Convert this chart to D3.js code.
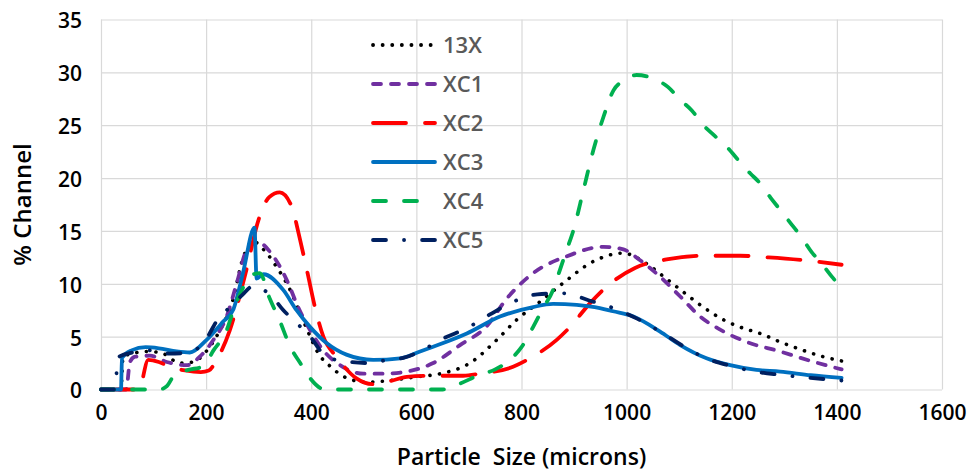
<!DOCTYPE html>
<html>
<head>
<meta charset="utf-8">
<script src="https://cdn.jsdelivr.net/npm/d3@7"></script>
<style>
  body { margin: 0; background: #fff; }
  svg { display: block; font-family: "Open Sans", sans-serif; }
</style>
</head>
<body>
<script>
// series names (legend order)
var seriesNames = ["13X", "XC1", "XC2", "XC3", "XC4", "XC5"];

// particle size (microns) and % channel
var size13X = [0, 38, 42, 60, 90, 118, 150, 175, 200, 225, 250, 270, 290, 310, 334, 360, 379, 398, 413, 436, 467, 505, 540, 600, 651, 702, 753, 791, 835, 880, 936, 993, 1038, 1070, 1111, 1140, 1184, 1222, 1254, 1292, 1336, 1374, 1409];
var pct13X  = [0, 0, 3.1, 3.4, 3.6, 3.4, 2.5, 2.6, 3.6, 5.5, 8.3, 12.4, 14.0, 13.2, 11.6, 9.4, 7.2, 5.0, 3.45, 2.2, 1.1, 0.7, 0.8, 1.2, 1.55, 2.5, 4.7, 6.6, 8.3, 10.1, 12.1, 12.9, 11.9, 10.7, 9.1, 8.0, 6.6, 5.8, 5.3, 4.5, 3.7, 3.1, 2.7];

var sizeXC1 = [0, 48, 55, 65, 93, 125, 163, 188, 214, 239, 258, 277, 296, 325, 353, 375, 398, 423, 455, 499, 537, 582, 632, 683, 734, 772, 822, 886, 956, 994, 1025, 1063, 1102, 1140, 1184, 1228, 1292, 1350, 1409];
var pctXC1  = [0, 0, 2.6, 3.1, 3.2, 2.6, 2.3, 3.1, 4.7, 6.9, 10.0, 13.2, 14.0, 12.8, 10.4, 7.8, 5.6, 3.7, 2.3, 1.5, 1.5, 1.7, 2.5, 4.2, 6.0, 8.6, 11.0, 12.6, 13.5, 13.25, 12.25, 10.7, 8.8, 6.9, 5.5, 4.5, 3.6, 2.7, 1.9];

var sizeXC2 = [0, 72, 90, 110, 131, 160, 190, 205, 220, 245, 275, 300, 320, 340, 362, 379, 393, 407, 423, 448, 486, 518, 550, 582, 620, 689, 721, 784, 816, 867, 892, 930, 959, 1016, 1076, 1146, 1216, 1270, 1343, 1409];
var pctXC2  = [0, 0, 2.8, 2.6, 2.15, 1.8, 1.65, 1.8, 2.8, 5.6, 11.0, 16.1, 18.2, 18.65, 17.4, 14.1, 11.0, 7.8, 5.0, 3.1, 1.05, 0.5, 0.8, 1.2, 1.3, 1.3, 1.5, 2.15, 2.95, 4.7, 5.9, 8.15, 9.6, 11.5, 12.3, 12.65, 12.65, 12.5, 12.2, 11.8];

var sizeXC3 = [0, 38, 40, 58, 85, 110, 144, 169, 201, 232, 252, 270, 292, 296, 309, 347, 372, 398, 429, 467, 518, 569, 607, 632, 696, 759, 822, 860, 905, 949, 974, 1013, 1063, 1102, 1152, 1197, 1247, 1292, 1350, 1409];
var pctXC3  = [0, 0, 3.0, 3.7, 4.0, 3.9, 3.6, 3.5, 4.7, 6.4, 7.6, 11.0, 15.3, 10.5, 10.9, 9.4, 7.5, 5.9, 4.4, 3.3, 2.8, 2.95, 3.6, 4.05, 5.3, 6.9, 7.8, 8.1, 8.0, 7.7, 7.4, 6.9, 5.5, 4.2, 2.95, 2.3, 1.85, 1.7, 1.35, 1.1];

var sizeXC4 = [0, 110, 125, 137, 150, 166, 195, 214, 239, 252, 271, 290, 302, 321, 340, 360, 379, 398, 420, 440, 650, 680, 721, 750, 780, 800, 822, 841, 860, 873, 886, 899, 918, 937, 956, 975, 993, 1019, 1051, 1079, 1102, 1124, 1146, 1165, 1190, 1209, 1235, 1254, 1273, 1292, 1314, 1330, 1352, 1368, 1390, 1409];
var pctXC4  = [0, 0, 0.3, 1.2, 1.6, 1.85, 2.2, 3.7, 5.6, 7.5, 9.7, 10.9, 11.0, 8.6, 6.5, 4.05, 2.5, 1.05, 0.1, 0, 0, 0.5, 1.4, 1.9, 2.9, 4.0, 5.9, 7.7, 9.4, 11.3, 13.2, 15.1, 18.9, 22.7, 25.8, 28.3, 29.2, 29.75, 29.4, 28.6, 27.4, 26.4, 25.0, 24.1, 23.0, 21.9, 20.45, 19.5, 18.2, 17.0, 15.6, 14.6, 13.0, 12.1, 10.7, 9.6];

var sizeXC5 = [0, 28, 31, 60, 90, 130, 169, 200, 226, 239, 268, 290, 303, 325, 347, 372, 398, 429, 474, 512, 544, 575, 607, 650, 696, 740, 784, 830, 880, 930, 975, 1020, 1063, 1108, 1149, 1197, 1244, 1290, 1350, 1409];
var pctXC5  = [0, 0, 3.0, 3.5, 3.7, 3.4, 3.5, 4.8, 6.9, 7.5, 8.9, 9.8, 9.6, 8.8, 7.5, 6.3, 5.0, 3.1, 2.6, 2.5, 2.8, 3.0, 3.6, 4.8, 5.8, 7.1, 8.3, 9.0, 9.1, 8.4, 7.7, 6.7, 5.5, 4.1, 3.0, 2.25, 1.7, 1.4, 1.1, 0.85];

// axis ticks
var xTicks = [0, 200, 400, 600, 800, 1000, 1200, 1400, 1600];
var yTicks = [0, 5, 10, 15, 20, 25, 30, 35];

var w = 971;
var h = 473;
const plot = {left: 101, right: 942, top: 19.5, bottom: 389.5};

// line styles per series
const styles = [
  {color: "#000000", dash: "0.1,9.5"},
  {color: "#7030A0", dash: "8,10"},
  {color: "#FF0000", dash: "33,19"},
  {color: "#0070C0", dash: null},
  {color: "#00B050", dash: "13,18"},
  {color: "#002060", dash: "13,18,0.1,18"}
];

var allSizes = [size13X, sizeXC1, sizeXC2, sizeXC3, sizeXC4, sizeXC5];
var allPcts = [pct13X, pctXC1, pctXC2, pctXC3, pctXC4, pctXC5];

var series = seriesNames.map(function(name, i) {
  return {
    name: name,
    points: allSizes[i].map(function(s, j) { return {x: s, y: allPcts[i][j]}; })
  };
});

var xScale = d3.scaleLinear().domain([0, 1600]).range([plot.left, plot.right]);
var yScale = d3.scaleLinear().domain([0, 35]).range([plot.bottom, plot.top]);

var svg = d3.select("body").append("svg")
            .attr("width", w)
            .attr("height", h);

// vertical gridlines + x tick labels
var xAxis = d3.axisBottom(xScale)
              .tickValues(xTicks)
              .tickFormat(d3.format("d"))
              .tickSize(-(plot.bottom - plot.top))
              .tickPadding(16);
var gx = svg.append("g")
            .attr("transform", "translate(0," + plot.bottom + ")")
            .call(xAxis);
gx.select(".domain").remove();
gx.selectAll("line").attr("stroke", "#d9d9d9").attr("stroke-width", 1.2);

// horizontal gridlines + y tick labels
var yAxis = d3.axisLeft(yScale)
              .tickValues(yTicks)
              .tickSize(-(plot.right - plot.left))
              .tickPadding(19);
var gy = svg.append("g")
            .attr("transform", "translate(" + plot.left + ",0)")
            .call(yAxis);
gy.select(".domain").remove();
gy.selectAll("line").attr("stroke", "#d9d9d9").attr("stroke-width", 1.2);

svg.selectAll(".tick text")
   .attr("font-family", "'Open Sans', sans-serif")
   .attr("font-size", "21px")
   .attr("font-weight", 600)
   .attr("fill", "#000");
gy.selectAll(".tick text").attr("dy", "0.4em");

// lines
var line = d3.line()
             .x(function(d) { return xScale(d.x); })
             .y(function(d) { return yScale(d.y); })
             .curve(d3.curveMonotoneX);

svg.selectAll(".series")
   .data(series)
   .enter()
   .append("path")
   .attr("class", "series")
   .attr("d", function(d) { return line(d.points); })
   .attr("fill", "none")
   .attr("stroke", function(d, i) { return styles[i].color; })
   .attr("stroke-width", function(d, i) { return i === 0 ? 3.6 : 3.8; })
   .attr("stroke-linecap", "round")
   .attr("stroke-dasharray", function(d, i) { return styles[i].dash; });

// legend
var legend = svg.append("g").attr("transform", "translate(371,45)");
var rows = legend.selectAll("g")
                 .data(series)
                 .enter()
                 .append("g")
                 .attr("transform", function(d, i) { return "translate(0," + (i * 39) + ")"; });
rows.append("line")
    .attr("x1", 2).attr("x2", 64)
    .attr("stroke", function(d, i) { return styles[i].color; })
    .attr("stroke-width", 3.8)
    .attr("stroke-linecap", "round")
    .attr("stroke-dasharray", function(d, i) { return styles[i].dash; });
rows.append("text")
    .attr("x", 72)
    .attr("dy", "0.36em")
    .attr("font-size", "22px")
    .attr("font-weight", 600)
    .attr("fill", "#595959")
    .text(function(d) { return d.name; });

// axis titles
svg.append("text")
   .attr("x", (plot.left + plot.right) / 2)
   .attr("y", 465)
   .attr("text-anchor", "middle")
   .attr("font-size", "23px")
   .attr("font-weight", 600)
   .style("white-space", "pre")
   .text("Particle  Size (microns)");

svg.append("text")
   .attr("transform", "translate(31," + ((plot.top + plot.bottom) / 2) + ") rotate(-90)")
   .attr("text-anchor", "middle")
   .attr("font-size", "24px")
   .attr("font-weight", 600)
   .text("% Channel");
</script>
</body>
</html>
